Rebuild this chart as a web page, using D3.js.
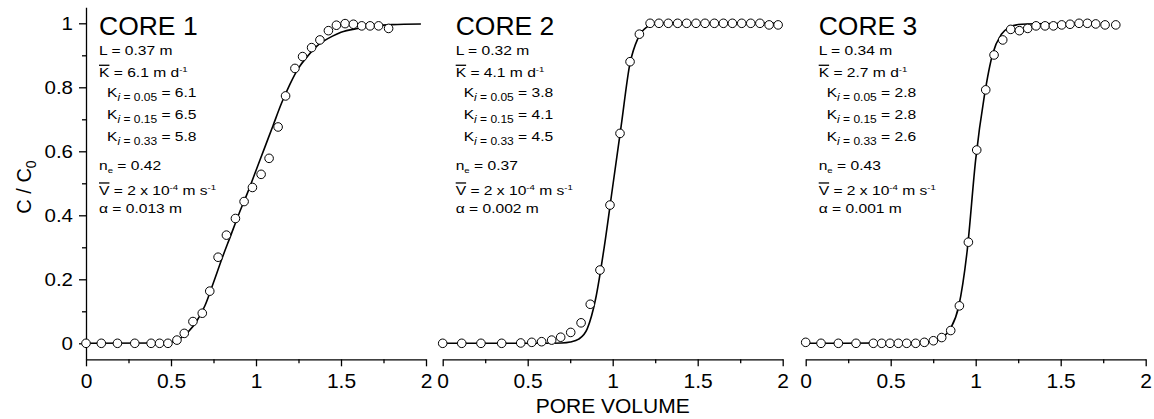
<!DOCTYPE html>
<html>
<head>
<meta charset="utf-8">
<script src="https://cdn.jsdelivr.net/npm/d3@7"></script>
<style>
  body { margin: 0; background: #fff; }
  svg { display: block; font-family: "Liberation Sans", Arial, sans-serif; }
</style>
</head>
<body>
<svg id="chart" width="1154" height="419"></svg>
<script>
// measured breakthrough data, [pore volume, C/C0]
const core1Obs = [[0,0],[0.09,0],[0.185,0],[0.287,0],[0.383,0],[0.433,0],[0.482,0],[0.535,0.01],[0.578,0.031],
  [0.629,0.068],[0.684,0.094],[0.728,0.163],[0.777,0.269],[0.826,0.338],[0.879,0.39],[0.93,0.443],[0.979,0.487],
  [1.03,0.528],[1.077,0.578],[1.13,0.676],[1.174,0.773],[1.229,0.859],[1.274,0.896],[1.327,0.924],[1.376,0.948],
  [1.426,0.977],[1.473,0.994],[1.524,0.999],[1.573,0.997],[1.622,0.992],[1.671,0.992],[1.721,0.992],[1.78,0.984]];
const core2Obs = [[0,0],[0.112,0],[0.225,0],[0.347,0],[0.459,0.001],[0.524,0.003],[0.582,0.005],[0.641,0.01],
  [0.694,0.019],[0.753,0.034],[0.814,0.064],[0.868,0.122],[0.925,0.229],[0.984,0.432],[1.043,0.656],[1.102,0.88],
  [1.157,0.966],[1.22,1],[1.272,1],[1.327,1],[1.382,1],[1.435,1],[1.49,1],[1.543,1],[1.598,1],[1.651,1],
  [1.704,1],[1.759,1],[1.812,1],[1.866,1],[1.92,0.995],[1.973,0.995]];
const core3Obs = [[0,0.003],[0.09,0],[0.192,0],[0.296,0],[0.398,0],[0.447,0],[0.496,0],[0.545,0],[0.594,0],
  [0.647,0],[0.698,0.003],[0.751,0.008],[0.8,0.018],[0.853,0.04],[0.904,0.117],[0.957,0.316],[1.006,0.604],
  [1.059,0.792],[1.108,0.901],[1.159,0.948],[1.206,0.981],[1.257,0.977],[1.306,0.984],[1.355,0.992],[1.408,0.992],
  [1.457,0.992],[1.506,0.995],[1.555,0.997],[1.608,1],[1.657,1],[1.706,0.998],[1.761,0.995],[1.824,0.995]];

// fitted curves
const core1Fit = [[0,0],[0.45,0.001],[0.5,0.004],[0.55,0.014],[0.6,0.035],[0.65,0.068],[0.7,0.118],[0.75,0.19],
  [0.8,0.265],[0.85,0.335],[0.9,0.405],[0.95,0.47],[1.0,0.54],[1.05,0.61],[1.1,0.68],[1.15,0.75],[1.2,0.81],
  [1.25,0.86],[1.3,0.895],[1.35,0.925],[1.4,0.945],[1.45,0.96],[1.5,0.972],[1.6,0.984],[1.7,0.992],[1.8,0.996],[1.97,0.998]];
const core2Fit = [[0,0],[0.6,0],[0.7,0.001],[0.75,0.004],[0.8,0.013],[0.85,0.045],[0.9,0.14],[0.95,0.3],[1.0,0.49],
  [1.05,0.68],[1.1,0.87],[1.15,0.955],[1.2,0.988],[1.25,0.998],[1.3,1],[1.97,1]];
const core3Fit = [[0,0],[0.7,0.002],[0.75,0.006],[0.8,0.016],[0.85,0.045],[0.9,0.115],[0.95,0.29],[1.0,0.575],
  [1.05,0.77],[1.1,0.905],[1.15,0.965],[1.2,0.988],[1.25,0.996],[1.3,0.998],[1.6,1]];

// labels
const coreNames = ["CORE 1", "CORE 2", "CORE 3"];
const lengths = ["0.37", "0.32", "0.34"];
const kMean = ["6.1", "4.1", "2.7"];
const kLevels = ["0.05", "0.15", "0.33"];
const kValues = [["6.1", "6.5", "5.8"], ["3.8", "4.1", "4.5"], ["2.8", "2.8", "2.6"]];
const porosity = ["0.42", "0.37", "0.43"];
const alphas = ["0.013", "0.002", "0.001"];
const xMajor = [0, 0.5, 1, 1.5, 2];
const xMinor = [0.25, 0.75, 1.25, 1.75];
const yMajor = [0, 0.2, 0.4, 0.6, 0.8, 1];
const yMinor = [0.1, 0.3, 0.5, 0.7, 0.9];

const obs = [core1Obs, core2Obs, core3Obs];
const fits = [core1Fit, core2Fit, core3Fit];
const panelLeft = [86, 442.7, 805.7];
const panelWidth = 340;

const svg = d3.select("#chart");
const y = d3.scaleLinear().domain([-0.05, 1.05]).range([359.3, 7.3]);

function styleAxis(g, size) {
  g.selectAll("path.domain").attr("stroke", "#000").attr("stroke-width", 1.3);
  g.selectAll(".tick line").attr("stroke", "#000").attr("stroke-width", 1.3);
  g.selectAll("text").attr("fill", "#000").style("font-size", size + "px")
    .style("font-family", '"Liberation Sans", Arial, sans-serif');
}

// one line of text with a horizontal stretch
function textLine(g, x, yy, sx, size) {
  return g.append("text")
    .attr("transform", `translate(${x},${yy}) scale(${sx},1)`)
    .style("font-size", size + "px").attr("fill", "#000");
}

coreNames.forEach((name, i) => {
  const x = d3.scaleLinear().domain([0, 2]).range([panelLeft[i], panelLeft[i] + panelWidth]);
  const g = svg.append("g");

  // X axis
  const gx = g.append("g").attr("transform", `translate(0,${y(-0.05)})`)
    .call(d3.axisBottom(x).tickValues(xMajor).tickSize(7).tickSizeOuter(0).tickPadding(7).tickFormat(d3.format("~g")));
  styleAxis(gx, 21);
  const gxm = g.append("g").attr("transform", `translate(0,${y(-0.05)})`)
    .call(d3.axisBottom(x).tickValues(xMinor).tickSize(4).tickFormat(""));
  gxm.select("path.domain").remove();
  styleAxis(gxm, 21);

  // Y axis only on the first panel
  if (i === 0) {
    const gy = g.append("g").attr("transform", `translate(${x(0)},0)`)
      .call(d3.axisLeft(y).tickValues(yMajor).tickSize(7).tickSizeOuter(0).tickPadding(6).tickFormat(d3.format("~g")));
    styleAxis(gy, 18);
    gy.selectAll(".tick text").attr("x", null)
      .attr("transform", "translate(-13,0) scale(1.14,1)");
    const gym = g.append("g").attr("transform", `translate(${x(0)},0)`)
      .call(d3.axisLeft(y).tickValues(yMinor).tickSize(4).tickFormat(""));
    gym.select("path.domain").remove();
    styleAxis(gym, 18);
  }

  // fitted curve
  g.append("path")
    .datum(fits[i])
    .attr("fill", "none")
    .attr("stroke", "#000")
    .attr("stroke-width", 1.6)
    .attr("d", d3.line().x(d => x(d[0])).y(d => y(d[1])).curve(d3.curveMonotoneX));

  // observations
  g.append("g").selectAll("circle")
    .data(obs[i])
    .enter()
    .append("circle")
    .attr("cx", d => x(d[0]))
    .attr("cy", d => y(d[1]))
    .attr("r", 4.3)
    .attr("fill", "#fff")
    .attr("stroke", "#000")
    .attr("stroke-width", 1);

  // annotation block
  const tx = x(0) + 13;
  textLine(g, tx, 35, 1.06, 25).text(name);
  textLine(g, tx, 55, 1.2, 13).text(`L = ${lengths[i]} m`);

  const kb = textLine(g, tx, 77.3, 1.2, 13);
  kb.append("tspan").style("text-decoration", "overline").text("K");
  kb.append("tspan").text(` = ${kMean[i]} m d`);
  kb.append("tspan").attr("dy", -5).style("font-size", "8px").text("-1");

  kLevels.forEach((lv, j) => {
    const t = textLine(g, tx + 8, [96.7, 119, 141][j], 1.2, 13);
    t.append("tspan").text("K");
    t.append("tspan").attr("dy", 4).style("font-size", "10px").style("font-style", "italic").text("i");
    t.append("tspan").style("font-size", "10px").text(` = ${lv}`);
    t.append("tspan").attr("dy", -4).text(` = ${kValues[i][j]}`);
  });

  const ne = textLine(g, tx, 170, 1.2, 13);
  ne.append("tspan").text("n");
  ne.append("tspan").attr("dy", 3).style("font-size", "8px").text("e");
  ne.append("tspan").attr("dy", -3).text(` = ${porosity[i]}`);

  const vb = textLine(g, tx, 195, 1.2, 13);
  vb.append("tspan").style("text-decoration", "overline").text("V");
  vb.append("tspan").text(" = 2 x 10");
  vb.append("tspan").attr("dy", -5).style("font-size", "8px").text("-4");
  vb.append("tspan").attr("dy", 5).text(" m s");
  vb.append("tspan").attr("dy", -5).style("font-size", "8px").text("-1");

  textLine(g, tx, 213.3, 1.2, 13).text(`α = ${alphas[i]} m`);
});

// axis titles
svg.append("text")
  .attr("x", (panelLeft[1] + panelLeft[1] + panelWidth) / 2)
  .attr("y", 413)
  .attr("text-anchor", "middle")
  .style("font-size", "21px")
  .text("PORE VOLUME");

const yl = svg.append("text")
  .attr("transform", "translate(31,187) rotate(-90)")
  .attr("text-anchor", "middle")
  .style("font-size", "20px");
yl.append("tspan").text("C / C");
yl.append("tspan").attr("dy", 5).style("font-size", "14px").text("0");
</script>
</body>
</html>
